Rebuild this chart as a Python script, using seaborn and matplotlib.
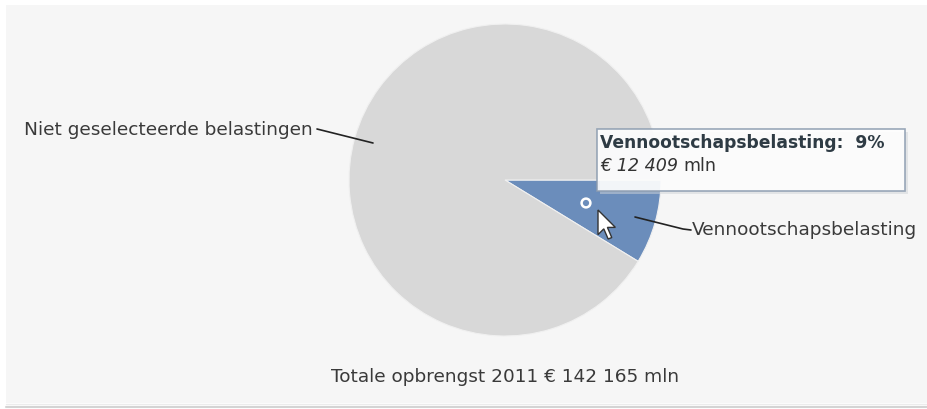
import matplotlib
matplotlib.use("Agg")
import matplotlib.pyplot as plt
import matplotlib.patches as mpatches
import seaborn as sns

# ---- data ----
categories = ["Vennootschapsbelasting", "Niet geselecteerde belastingen"]
values = [12409, 129756]
total = 142165
year = 2011

sns.set_style("white")
plt.rcParams['font.family'] = ['DejaVu Sans']

colors = ["#6b8dbb", "#d8d8d8"]

W, H = 927, 409
fig = plt.figure(figsize=(W / 100, H / 100), dpi=100, facecolor="white")
ax = fig.add_axes([0, 0, 1, 1])
ax.set_facecolor("white")

# panel background
ax.add_patch(mpatches.Rectangle((6, 5), W - 6, 398, facecolor="#f6f6f6",
                                edgecolor="none", zorder=0))
ax.plot([6, W], [403.5, 403.5], color="#ececec", lw=1, zorder=0.5)
ax.plot([6, W], [406.5, 406.5], color="#d4d4d4", lw=1.5, zorder=0.5)

cx, cy, r = 505, 180, 156
wedges, _ = ax.pie(values, colors=colors, startangle=0, counterclock=True,
                   center=(cx, cy), radius=r,
                   wedgeprops=dict(edgecolor="#f0f0f0", linewidth=0.8))
for w in wedges:
    w.set_zorder(2)

ax.set_xlim(0, W)
ax.set_ylim(H, 0)
ax.set_aspect("auto")
ax.axis("off")

txt_color = "#3a3a3a"
fs = 13.3

# data labels with connectors
ax.plot([317, 373], [129, 143], color="#222222", lw=1.2, zorder=3)
ax.text(24, 130, categories[1], fontsize=fs, color=txt_color,
        ha="left", va="center", zorder=3)
ax.plot([635, 683, 691], [217, 229, 230], color="#222222", lw=1.2, zorder=3)
ax.text(692, 230, categories[0], fontsize=fs, color=txt_color,
        ha="left", va="center", zorder=3)

# hover marker
ax.scatter([586], [203], s=40, facecolors="none", edgecolors="white",
           linewidths=1.8, zorder=4)

# tooltip
ax.add_patch(mpatches.Rectangle((600, 132), 308, 62, facecolor="#cfd3d8",
                                edgecolor="none", alpha=0.5, zorder=4))
ax.add_patch(mpatches.Rectangle((597, 129), 308, 62, facecolor="white",
                                edgecolor="#8c9cb0", lw=1.2, alpha=0.88,
                                zorder=5))
pct = round(values[0] / total * 100)
ax.text(600, 143, f"{categories[0]}:  {pct}%", fontsize=12.3,
        fontweight="bold", color="#2e3b44", ha="left", va="center", zorder=6)
amt = f"{values[0]:,}".replace(",", " ")
t = ax.text(600, 166, f"€ {amt}", fontsize=12.6, style="italic",
            color="#333333", ha="left", va="center", zorder=6)
fig.canvas.draw()
bb = t.get_window_extent()
x_end = ax.transData.inverted().transform((bb.x1, bb.y0))[0]
ax.text(x_end + 5, 166, "mln", fontsize=12.6, color="#333333",
        ha="left", va="center", zorder=6)

# mouse cursor
tipx, tipy, s = 598, 210, 1.45
cur = [(0, 0), (0, 17), (4, 13), (7, 20), (9.5, 19), (6.5, 12), (12, 12)]
ax.add_patch(mpatches.Polygon([(tipx + s * a, tipy + s * b) for a, b in cur],
                              closed=True, facecolor="white",
                              edgecolor="#333333", lw=1, zorder=7))

# footer
ax.text(505, 377, f"Totale opbrengst {year} € {total:,}".replace(",", " ") + " mln",
        fontsize=fs, color=txt_color, ha="center", va="center", zorder=3)

fig.savefig("out.png", dpi=100, facecolor="white")
